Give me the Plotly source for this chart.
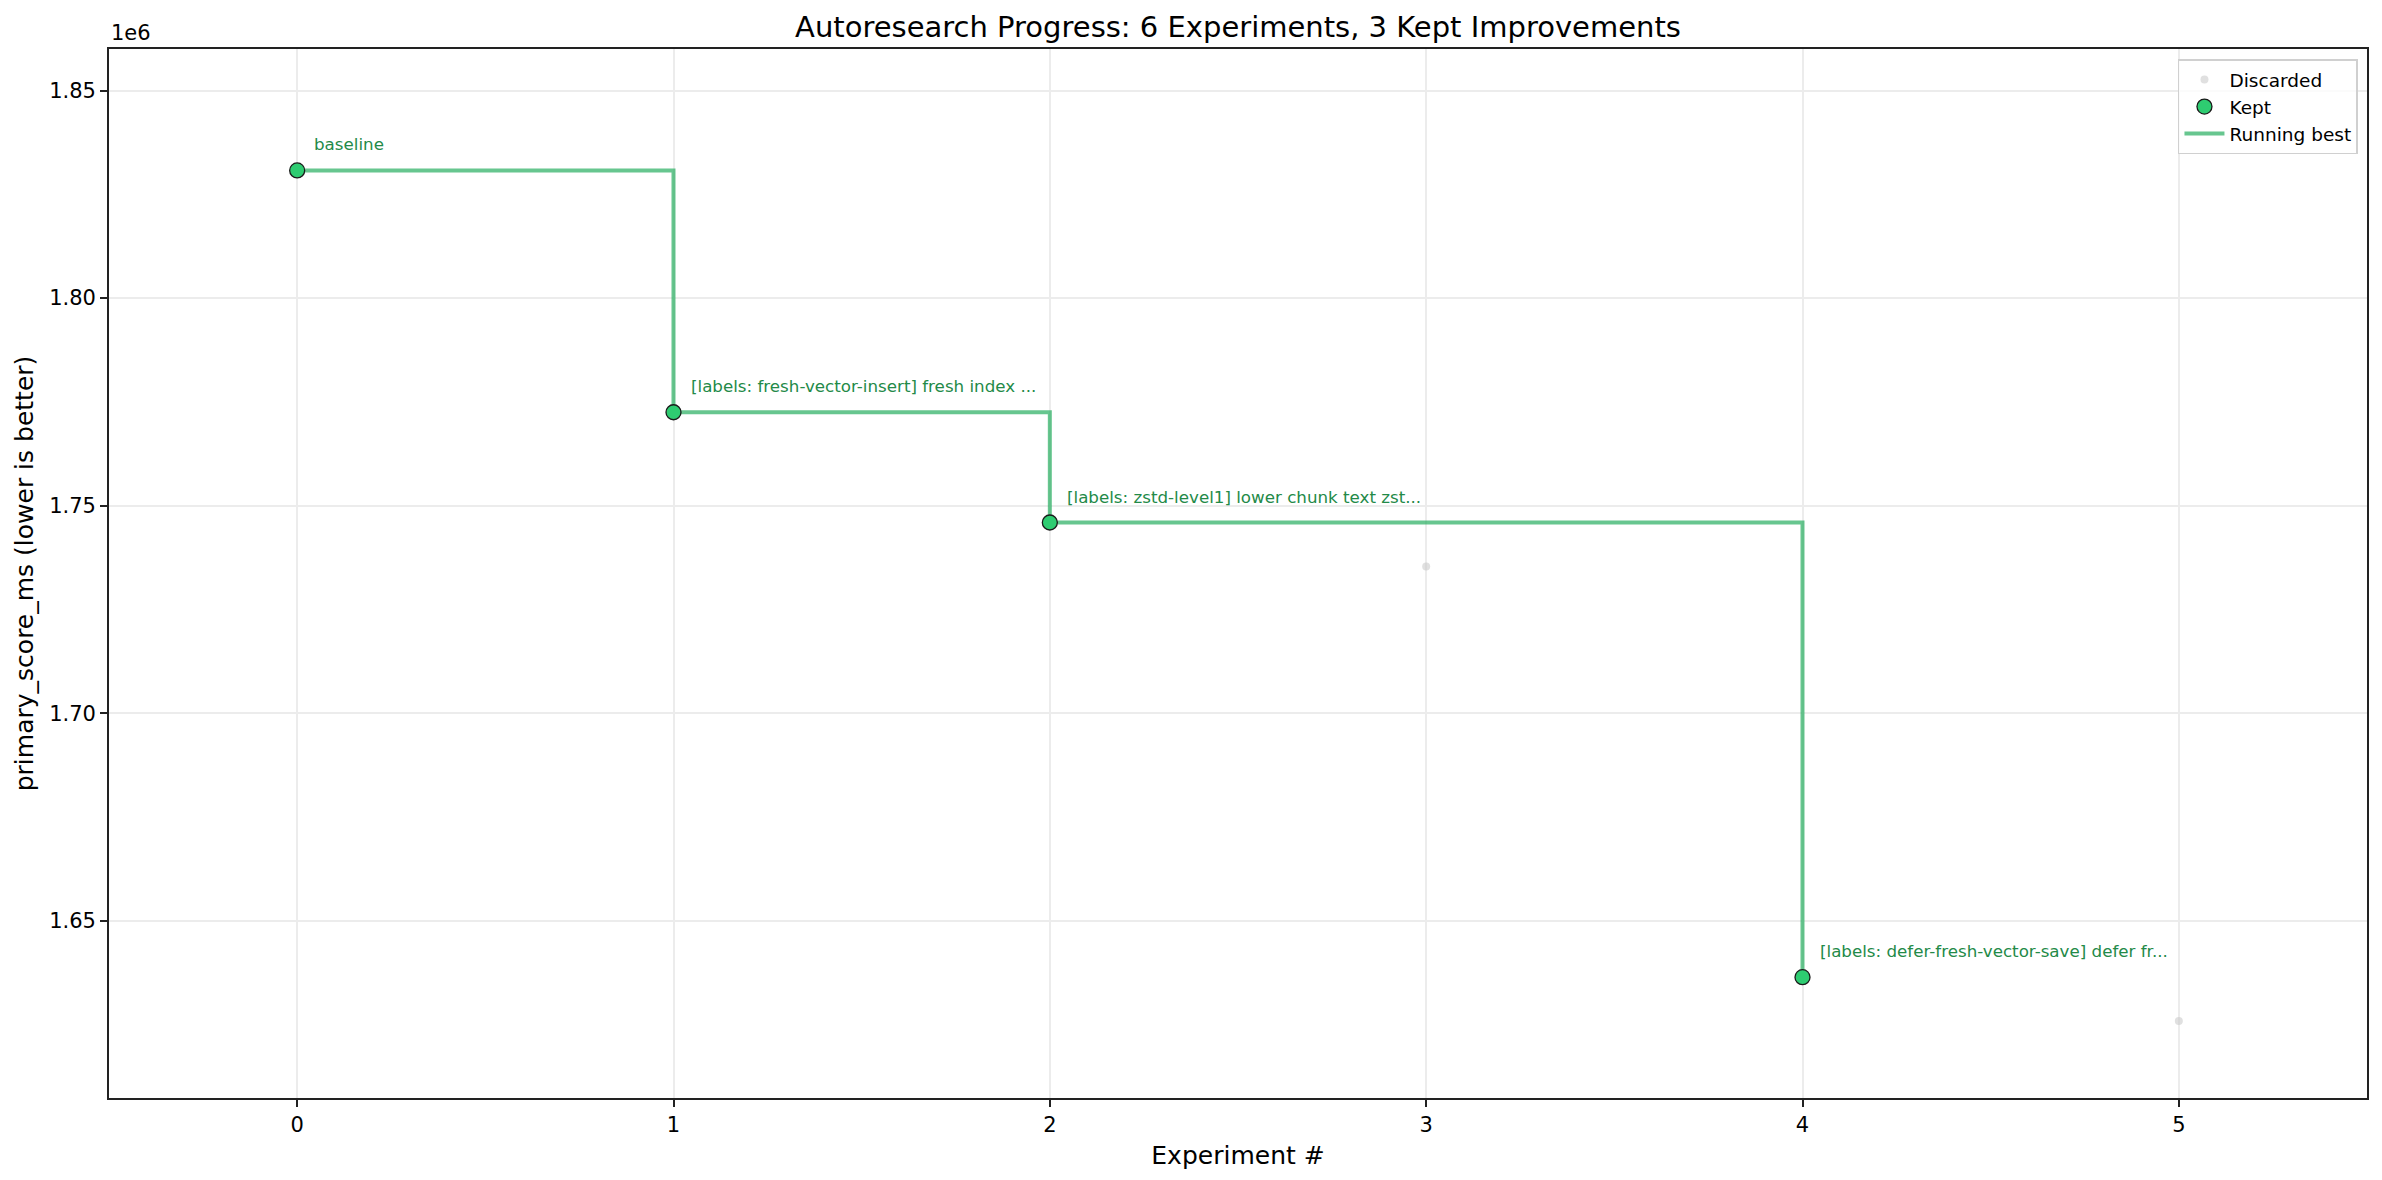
import plotly.graph_objects as go

# Data
experiments = [0, 1, 2, 3, 4, 5]
scores = [1830740, 1772500, 1745930, 1735340, 1636400, 1625870]
status = ["keep", "keep", "keep", "discard", "keep", "discard"]
labels = [
    "baseline",
    "[labels: fresh-vector-insert] fresh index ...",
    "[labels: zstd-level1] lower chunk text zst...",
    "",
    "[labels: defer-fresh-vector-save] defer fr...",
    "",
]
x_ticks = [0, 1, 2, 3, 4, 5]
y_ticks = [1.65e6, 1.70e6, 1.75e6, 1.80e6, 1.85e6]
y_tick_text = ["1.65", "1.70", "1.75", "1.80", "1.85"]

kept_x = [x for x, s in zip(experiments, status) if s == "keep"]
kept_y = [y for y, s in zip(scores, status) if s == "keep"]
disc_x = [x for x, s in zip(experiments, status) if s == "discard"]
disc_y = [y for y, s in zip(scores, status) if s == "discard"]

FONT = "DejaVu Sans"
fig = go.Figure()

fig.add_trace(go.Scatter(
    x=disc_x, y=disc_y, mode="markers", name="Discarded", legendrank=1,
    marker=dict(color="rgba(204,204,204,0.6)", size=8, line=dict(width=0)),
))
fig.add_trace(go.Scatter(
    x=kept_x, y=kept_y, mode="lines", name="Running best", line_shape="hv", legendrank=3,
    line=dict(color="rgba(39,174,96,0.7)", width=4),
))
fig.add_trace(go.Scatter(
    x=kept_x, y=kept_y, mode="markers", name="Kept", legendrank=2,
    marker=dict(color="#2ecc71", size=15, line=dict(color="#1a1a1a", width=1.3)),
))

for x, y, s, t in zip(experiments, scores, status, labels):
    if s == "keep" and t:
        fig.add_annotation(
            x=x, y=y, text=t, showarrow=False, xanchor="left", yanchor="bottom",
            xshift=15, yshift=14, font=dict(family=FONT, size=16.7, color="#238a48"),
        )

fig.add_annotation(
    xref="paper", yref="paper", x=0, y=1, text="1e6", showarrow=False,
    xanchor="left", yanchor="bottom", yshift=2,
    font=dict(family=FONT, size=21, color="black"),
)

axis_common = dict(
    showline=True, linecolor="#222222", linewidth=1.7, mirror=True,
    ticks="outside", ticklen=7, tickwidth=1.7, tickcolor="#222222",
    showgrid=True, gridcolor="#ececec", gridwidth=1.5, zeroline=False,
    tickfont=dict(family=FONT, size=21, color="black"),
)

fig.update_layout(
    width=2382, height=1180,
    margin=dict(l=109, r=15, t=49, b=82),
    paper_bgcolor="white", plot_bgcolor="white",
    title=dict(text="Autoresearch Progress: 6 Experiments, 3 Kept Improvements",
               x=0.5, xanchor="center", xref="paper", y=1 - 27 / 1180, yanchor="middle",
               font=dict(family=FONT, size=29, color="black")),
    xaxis=dict(range=[-0.5, 5.5], tickvals=x_ticks,
               title=dict(text="Experiment #", font=dict(family=FONT, size=25, color="black"), standoff=10),
               **axis_common),
    yaxis=dict(range=[1.6073e6, 1.86e6], tickvals=y_ticks, ticktext=y_tick_text,
               title=dict(text="primary_score_ms (lower is better)", font=dict(family=FONT, size=25, color="black"), standoff=8),
               **axis_common),
    legend=dict(x=0.996, y=0.99, xanchor="right", yanchor="top",
                bgcolor="rgba(255,255,255,0.8)", bordercolor="#d0d0d0", borderwidth=1.5,
                font=dict(family=FONT, size=18.5, color="black"), itemwidth=40,
                tracegroupgap=0),
    showlegend=True,
)

fig.write_html("out.html")
